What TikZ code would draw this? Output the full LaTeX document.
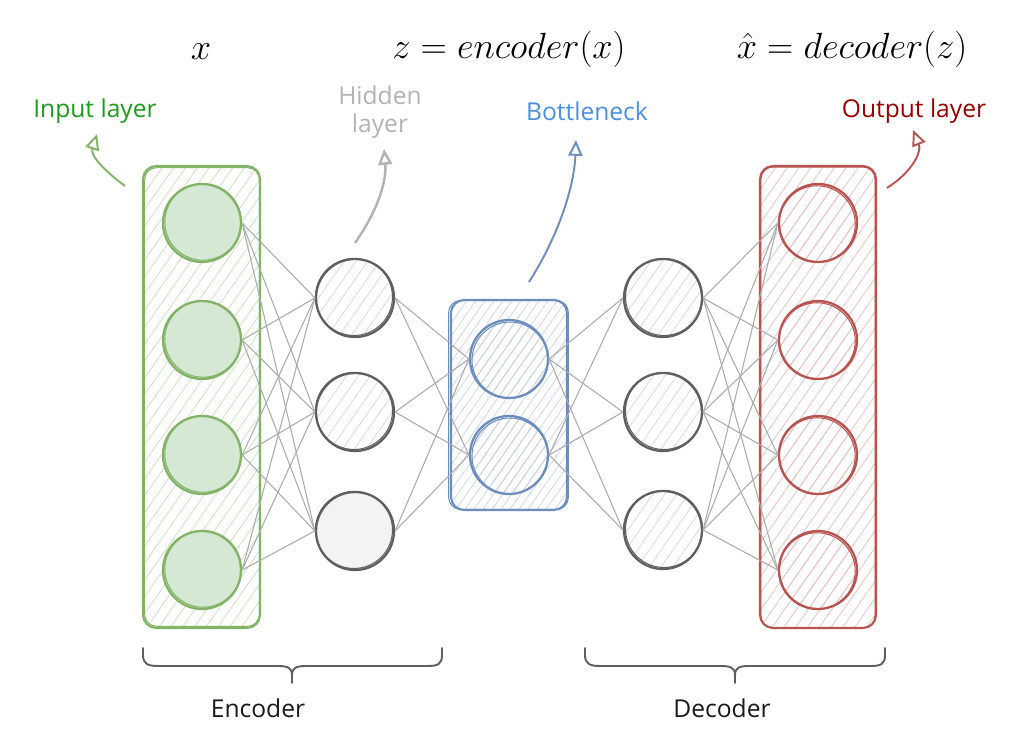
\documentclass[tikz,border=0pt]{standalone}
\usepackage{fontspec}
\setsansfont{Open Sans}
\usetikzlibrary{patterns.meta,arrows.meta}

\definecolor{grnline}{HTML}{82B366}
\definecolor{grnfill}{HTML}{D5E8D4}
\definecolor{bluline}{HTML}{6C8EBF}
\definecolor{blufill}{HTML}{DAE8FC}
\definecolor{redline}{HTML}{B85450}
\definecolor{redfill}{HTML}{F8CECC}
\definecolor{gryline}{HTML}{5F5F5F}
\definecolor{gryfill}{HTML}{F3F3F3}
\definecolor{linkgray}{HTML}{ABABAB}
\definecolor{txtgreen}{HTML}{1E9A1E}
\definecolor{txtgray}{HTML}{B3B3B3}
\definecolor{txtblue}{HTML}{4A8FE0}
\definecolor{txtred}{HTML}{990000}
\definecolor{txtdark}{HTML}{1A1A1A}

\begin{document}
\begin{tikzpicture}[x=0.02cm,y=-0.02cm,
  layerbox/.style={draw=#1, line width=1.2pt, rounded corners=0.26cm, inner sep=0pt},
  neuron/.style={circle, draw=#1, line width=1.3pt, minimum size=1.56cm, inner sep=0pt},
  hatch/.style={pattern={Lines[angle=55,distance=5.5pt,line width=0.45pt]}, pattern color=#1},
  densehatch/.style={pattern={Lines[angle=55,distance=4.2pt,line width=0.45pt]}, pattern color=#1},
  link/.style={draw=linkgray, line width=0.6pt},
  callout/.style={draw=#1, line width=1.1pt, -{Triangle[open,length=9pt,width=8pt]}},
  retrace/.style={draw=#1, line width=0.6pt},
  lbl/.style={font=\sffamily\fontsize{14}{17}\selectfont, align=center},
  formula/.style={font=\fontsize{22}{26}\selectfont, inner sep=1pt},
  bracepath/.style={draw=gryline, line width=1.1pt, line cap=round, line join=round}]
\useasboundingbox (0,0) rectangle (1029,736);

% ---------- layer frames ----------
\node[layerbox=grnline, hatch=grnline!40, minimum width=2.34cm, minimum height=9.24cm] (inbox) at (201.5,397) {};
\node[layerbox=bluline, densehatch=bluline!35, minimum width=2.32cm, minimum height=4.2cm] (botbox) at (509,405) {};
\node[layerbox=redline, hatch=redline!35, minimum width=2.32cm, minimum height=9.24cm] (outbox) at (818,397) {};
\draw[retrace=grnline] ([shift={(2,-2)}]inbox.south west) [rounded corners=0.24cm] rectangle ([shift={(-1,2)}]inbox.north east);
\draw[retrace=bluline] ([shift={(-2,-1)}]botbox.south west) [rounded corners=0.24cm] rectangle ([shift={(1,1)}]botbox.north east);
\draw[retrace=redline] ([shift={(2,-1)}]outbox.south west) [rounded corners=0.24cm] rectangle ([shift={(-2,2)}]outbox.north east);

% ---------- neurons ----------
\foreach \i/\y in {1/223,2/340,3/455,4/570} {
  \node[neuron=grnline, fill=grnfill] (in\i) at (202,\y) {};
  \draw[retrace=grnline] ([shift={(1,-1)}]in\i.center) circle[radius=0.765cm];
}
\foreach \i/\y in {1/298,2/412} {
  \node[neuron=gryline, hatch=gray!30] (ha\i) at (355,\y) {};
  \draw[retrace=gryline] ([shift={(-1,-1)}]ha\i.center) circle[radius=0.77cm];
}
\node[neuron=gryline, fill=gryfill] (ha3) at (355,531) {};
\draw[retrace=gryline] ([shift={(-1,-1)}]ha3.center) circle[radius=0.77cm];
\foreach \i/\y in {1/359,2/455} {
  \node[neuron=bluline, densehatch=bluline!40] (bn\i) at (509,\y) {};
  \draw[retrace=bluline] ([shift={(1,1)}]bn\i.center) circle[radius=0.76cm];
}
\foreach \i/\y in {1/298,2/412,3/530} {
  \node[neuron=gryline, hatch=gray!30] (hb\i) at (663,\y) {};
  \draw[retrace=gryline] ([shift={(1,-1)}]hb\i.center) circle[radius=0.77cm];
}
\foreach \i/\y in {1/223,2/340,3/455,4/570} {
  \node[neuron=redline, hatch=redline!35] (out\i) at (818,\y) {};
  \draw[retrace=redline] ([shift={(-1,1)}]out\i.center) circle[radius=0.765cm];
}

% ---------- weights ----------
\foreach \a in {1,...,4} \foreach \b in {1,2,3} \draw[link] (in\a.east) -- (ha\b.west);
\foreach \a in {1,2,3} \foreach \b in {1,2} \draw[link] (ha\a.east) -- (bn\b.west);
\foreach \a in {1,2} \foreach \b in {1,2,3} \draw[link] (bn\a.east) -- (hb\b.west);
\foreach \a in {1,2,3} \foreach \b in {1,...,4} \draw[link] (hb\a.east) -- (out\b.west);

% ---------- formulas ----------
\node[formula] (fx) at (201,52) {$x$};
\node[formula] (fz) at (509,49) {$z = encoder(x)$};
\node[formula] (fxh) at (852,49) {$\hat{x} = decoder(z)$};

% ---------- callouts ----------
\node[lbl, text=txtgreen] (lin) at (95,111) {Input layer};
\node[lbl, text=txtgray] (lhid) at (380,112) {Hidden\\[-1pt]layer};
\node[lbl, text=txtblue] (lbot) at (587,111) {Bottleneck};
\node[lbl, text=txtred] (lout) at (914,111) {Output layer};

\coordinate (cin0) at (125,186);  \coordinate (cin1) at (97,134);
\coordinate (chid0) at (355,243); \coordinate (chid1) at (384,149);
\coordinate (cbot0) at (529,282); \coordinate (cbot1) at (576,140);
\coordinate (cout0) at (887,188); \coordinate (cout1) at (913,130);
\draw[callout=grnline] (cin0) .. controls (106,172) and (90,156) .. (cin1);
\draw[callout=txtgray, line width=1.4pt] (chid0) .. controls (374,216) and (387,185) .. (chid1);
\draw[callout=bluline] (cbot0) .. controls (556,240) and (574,190) .. (cbot1);
\draw[callout=redline] (cout0) .. controls (912,172) and (922,152) .. (cout1);

% ---------- braces ----------
\draw[bracepath] (143,648) -- (143,655) .. controls (143,664) and (148,666) .. (158,666) -- (278,666)
  .. controls (288,666) and (292,668) .. (292,675) -- (292,683);
\draw[bracepath] (292,675) .. controls (292,668) and (296,666) .. (306,666) -- (428,666)
  .. controls (438,666) and (442,664) .. (442,655) -- (442,648);
\draw[bracepath] (585,648) -- (585,655) .. controls (585,664) and (590,666) .. (600,666) -- (721,666)
  .. controls (731,666) and (735,668) .. (735,675) -- (735,683);
\draw[bracepath] (735,675) .. controls (735,668) and (739,666) .. (749,666) -- (871,666)
  .. controls (881,666) and (885,664) .. (885,655) -- (885,648);
\node[lbl, text=txtdark] (lenc) at (258,708) {Encoder};
\node[lbl, text=txtdark] (ldec) at (722,708) {Decoder};
\end{tikzpicture}
\end{document}
